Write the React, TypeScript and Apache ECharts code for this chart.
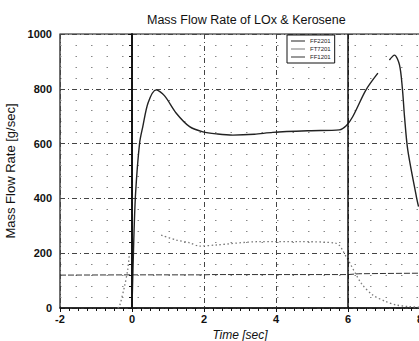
import React, { useEffect, useRef } from "react";
import * as echarts from "echarts";

const titleText = "Mass Flow Rate of LOx & Kerosene";
const xName = "Time [sec]";
const yName = "Mass Flow Rate [g/sec]";
const seriesNames = ["FF2201", "FT7201", "FF1201"];

// FF2201 (main dark curve)
const ff2201T = [0.0, 0.05, 0.1, 0.21, 0.3, 0.45, 0.67, 0.9, 1.23, 1.6, 1.97, 2.38, 2.8, 3.4, 3.91, 4.93, 5.76, 5.95, 6.13, 6.5, 6.83, 7.0, 7.15, 7.29, 7.43, 7.51, 7.57, 7.66, 7.9, 7.96];
const ff2201V: (number | null)[] = [0, 250, 420, 601, 662, 750, 796, 775, 711, 662, 643, 635, 631, 634, 641, 647, 650, 665, 698, 796, 857, null, 905, 923, 887, 802, 698, 577, 406, 370];

// FT7201 (light dotted curve)
const ft7201T = [-0.4, -0.35, -0.21, -0.12, -0.07, 0.3, 0.81, 1.23, 1.6, 1.87, 2.34, 3.54, 4.65, 5.67, 5.95, 6.37, 6.69, 7.06, 7.34, 7.7, 8.0];
const ft7201V: (number | null)[] = [0, 5, 78, 139, 200, null, 266, 248, 238, 226, 230, 242, 242, 236, 187, 90, 47, 23, 11, 5, 3];

// FF1201 (flat dashed line)
const ff1201T = [-2, 0, 2, 2.2, 4, 6, 6.3, 7, 8];
const ff1201V = [120, 121, 121, 122, 122, 122, 125, 126, 127];

const pairs = (t: number[], v: (number | null)[]) => t.map((x, i) => [x, v[i] === null ? null : v[i]]);

export default function App() {
  const ref = useRef<HTMLDivElement>(null);
  useEffect(() => {
    if (!ref.current) return;
    const chart = echarts.init(ref.current, null, { renderer: "svg" });
    const font = "'Liberation Sans', Arial, sans-serif";
    chart.setOption({
      animation: false,
      backgroundColor: "#fff",
      title: {
        text: titleText,
        left: 142,
        top: 8,
        textStyle: { fontSize: 12.5, fontWeight: "normal", color: "#111", fontFamily: font },
      },
      legend: {
        show: true,
        left: 287,
        top: 35,
        orient: "vertical",
        icon: "rect",
        itemWidth: 14,
        itemHeight: 1,
        itemGap: 2,
        padding: [3, 4],
        borderColor: "#111",
        borderWidth: 1,
        backgroundColor: "#fff",
        textStyle: { fontSize: 6, color: "#222", fontFamily: font },
        data: seriesNames,
      },
      grid: { left: 60, top: 34, right: -1, bottom: 33, containLabel: false, outerBoundsMode: "none", show: true, borderColor: "#111", borderWidth: 1.2, backgroundColor: "transparent" },
      xAxis: {
        type: "value",
        min: -2,
        max: 8,
        interval: 2,
        name: xName,
        nameLocation: "middle",
        nameGap: 14,
        nameTextStyle: { fontSize: 12, fontStyle: "italic", color: "#111", fontFamily: font },
        axisLine: { show: true, onZero: false, lineStyle: { color: "#111", width: 1.5 } },
        axisTick: { show: true, length: 4, lineStyle: { color: "#111" } },
        minorTick: { show: true, splitNumber: 8, length: 3, lineStyle: { color: "#111" } },
        axisLabel: { fontSize: 11, color: "#111", fontWeight: "bold", margin: 5, fontFamily: font, formatter: (v: number) => String(v) },
        splitLine: { show: true, lineStyle: { color: "#444", width: 1, type: [5, 3, 1, 3] } },
        minorSplitLine: { show: false },
      },
      yAxis: {
        type: "value",
        min: 0,
        max: 1000,
        interval: 200,
        name: yName,
        nameLocation: "middle",
        nameGap: 38,
        nameTextStyle: { fontSize: 13, color: "#111", fontFamily: font },
        axisLine: { show: true, lineStyle: { color: "#111", width: 1.8 } },
        axisTick: { show: true, length: 4, lineStyle: { color: "#111" } },
        minorTick: { show: true, splitNumber: 5, length: 3, lineStyle: { color: "#111" } },
        axisLabel: { fontSize: 11, color: "#111", fontWeight: "bold", margin: 8, fontFamily: font, formatter: (v: number) => String(v) },
        splitLine: { show: true, lineStyle: { color: "#444", width: 1, type: [5, 3, 1, 3] } },
        minorSplitLine: { show: true, lineStyle: { color: "#888", width: 1, type: [1.5, 14] } },
      },
      series: [
        {
          name: seriesNames[0],
          type: "line",
          data: pairs(ff2201T, ff2201V),
          symbol: "none",
          smooth: 0.3,
          connectNulls: false,
          lineStyle: { color: "#222", width: 1.4 },
          itemStyle: { color: "#222" },
          z: 4,
        },
        {
          name: seriesNames[1],
          type: "line",
          data: pairs(ft7201T, ft7201V),
          symbol: "none",
          smooth: 0.3,
          connectNulls: false,
          lineStyle: { color: "#777", width: 1.3, type: [1.5, 2.5] },
          itemStyle: { color: "#777" },
          z: 3,
        },
        {
          name: seriesNames[2],
          type: "line",
          data: pairs(ff1201T, ff1201V),
          symbol: "none",
          lineStyle: { color: "#333", width: 1, type: [6, 2] },
          itemStyle: { color: "#333" },
          z: 2,
          markLine: {
            silent: true,
            symbol: ["none", "none"],
            label: { show: false },
            lineStyle: { color: "#111", width: 1.5, type: "solid" },
            data: [{ xAxis: 0 }, { xAxis: 6 }],
          },
        },
      ],
    });
    return () => chart.dispose();
  }, []);
  return <div ref={ref} style={{ width: 419, height: 341, position: "absolute", left: 0, top: 0 }} />;
}
